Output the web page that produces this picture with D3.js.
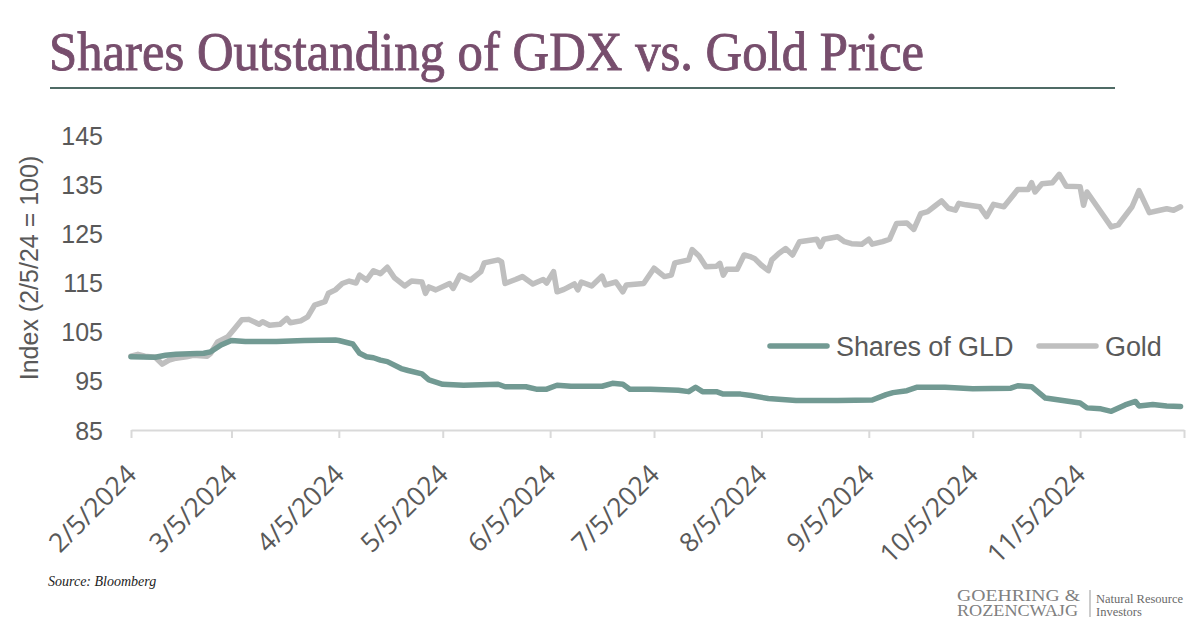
<!DOCTYPE html>
<html>
<head>
<meta charset="utf-8">
<script src="https://cdn.jsdelivr.net/npm/d3@7"></script>
<style>
  html, body { margin: 0; padding: 0; background: #ffffff; }
  svg { display: block; }
</style>
</head>
<body>
<svg id="chart" width="1200" height="628"></svg>
<script>
// ---------- DATA ----------
const titleText = "Shares Outstanding of GDX vs. Gold Price";
const yAxisTitle = "Index (2/5/24 = 100)";
const sourceText = "Source: Bloomberg";
const seriesNames = ["Shares of GLD", "Gold"];
const xTickLabels = ["2/5/2024","3/5/2024","4/5/2024","5/5/2024","6/5/2024","7/5/2024","8/5/2024","9/5/2024","10/5/2024","11/5/2024"];
const xDomain = ["2024-02-05", "2024-12-05"];
const yTicks = [85, 95, 105, 115, 125, 135, 145];

const goldDates = ["2024-02-05","2024-02-07","2024-02-09","2024-02-12","2024-02-14","2024-02-16","2024-02-18","2024-02-21","2024-02-23","2024-02-27","2024-02-28",
"2024-03-01","2024-03-04","2024-03-06","2024-03-08","2024-03-10","2024-03-13","2024-03-14","2024-03-16","2024-03-19","2024-03-21","2024-03-22","2024-03-25","2024-03-27","2024-03-29",
"2024-04-01","2024-04-02","2024-04-04","2024-04-06","2024-04-08","2024-04-10","2024-04-11","2024-04-13","2024-04-15","2024-04-17","2024-04-19","2024-04-21","2024-04-24","2024-04-26","2024-04-29","2024-04-30",
"2024-05-01","2024-05-03","2024-05-07","2024-05-08","2024-05-10","2024-05-13","2024-05-16","2024-05-17","2024-05-21","2024-05-22","2024-05-23","2024-05-26","2024-05-28","2024-05-31",
"2024-06-03","2024-06-04","2024-06-06","2024-06-07","2024-06-09","2024-06-12","2024-06-13","2024-06-14","2024-06-17","2024-06-20","2024-06-21","2024-06-24","2024-06-26","2024-06-27",
"2024-07-02","2024-07-05","2024-07-08","2024-07-10","2024-07-11","2024-07-15","2024-07-16","2024-07-18","2024-07-20","2024-07-23","2024-07-24","2024-07-25","2024-07-26","2024-07-29","2024-07-31",
"2024-08-02","2024-08-03","2024-08-05","2024-08-07","2024-08-08","2024-08-10","2024-08-12","2024-08-14","2024-08-16","2024-08-19","2024-08-21","2024-08-22","2024-08-23","2024-08-27","2024-08-29","2024-08-31",
"2024-09-03","2024-09-05","2024-09-06","2024-09-09","2024-09-11","2024-09-13","2024-09-16","2024-09-18","2024-09-20","2024-09-22","2024-09-24","2024-09-26","2024-09-28","2024-09-30",
"2024-10-01","2024-10-03","2024-10-07","2024-10-09","2024-10-11","2024-10-14","2024-10-18","2024-10-21","2024-10-22","2024-10-23","2024-10-25","2024-10-28","2024-10-30",
"2024-11-01","2024-11-05","2024-11-06","2024-11-07","2024-11-14","2024-11-16","2024-11-20","2024-11-22","2024-11-25","2024-11-28","2024-11-30",
"2024-12-02","2024-12-04"];
const goldValues = [100.0,100.4,100.0,99.8,98.4,99.2,99.6,99.9,100.2,100.0,100.6,
102.9,104.0,105.7,107.4,107.5,106.5,107.0,106.3,106.5,107.7,106.8,107.2,108.0,110.4,
111.1,112.8,113.5,114.8,115.3,114.9,116.5,115.5,117.4,116.8,118.1,116.0,114.3,115.3,115.1,112.8,
114.1,113.5,114.8,113.8,116.5,115.5,117.2,119.0,119.6,119.2,114.8,115.6,116.2,114.7,
115.6,114.9,117.2,113.1,113.6,114.7,113.5,115.1,114.3,116.3,114.5,115.1,113.1,114.5,
114.8,117.9,116.2,116.5,119.0,119.6,121.7,120.4,118.2,118.3,118.9,116.5,117.7,117.7,120.6,
120.2,119.9,118.5,117.4,119.6,120.9,121.9,120.6,123.3,123.6,123.8,122.3,123.8,124.3,123.3,122.9,
122.8,123.8,122.8,123.3,123.8,127.0,127.1,125.8,129.0,129.4,130.5,131.6,130.1,129.7,
131.1,130.8,130.4,128.4,130.9,130.4,133.9,133.9,135.3,133.4,135.1,135.3,137.0,
134.6,134.5,130.7,133.4,126.3,126.7,130.4,133.7,129.2,129.7,130.0,
129.7,130.4];

const sharesDates = ["2024-02-05","2024-02-12","2024-02-15","2024-02-18","2024-02-26","2024-02-28",
"2024-03-02","2024-03-05","2024-03-09","2024-03-18","2024-03-26",
"2024-04-04","2024-04-05","2024-04-09","2024-04-11","2024-04-13","2024-04-15","2024-04-17","2024-04-19","2024-04-23","2024-04-25","2024-04-29",
"2024-05-01","2024-05-05","2024-05-11","2024-05-21","2024-05-23","2024-05-29",
"2024-06-01","2024-06-04","2024-06-07","2024-06-11","2024-06-20","2024-06-23","2024-06-26","2024-06-28",
"2024-07-04","2024-07-12","2024-07-15","2024-07-17","2024-07-19","2024-07-23","2024-07-25","2024-07-30",
"2024-08-02","2024-08-07","2024-08-15","2024-08-27",
"2024-09-06","2024-09-10","2024-09-12","2024-09-16","2024-09-19","2024-09-27",
"2024-10-05","2024-10-16","2024-10-18","2024-10-22","2024-10-26","2024-10-31",
"2024-11-05","2024-11-07","2024-11-11","2024-11-14","2024-11-18","2024-11-21","2024-11-22","2024-11-26","2024-11-30",
"2024-12-04"];
const sharesValues = [99.9,99.8,100.2,100.4,100.6,100.9,
102.3,103.2,103.0,103.0,103.2,
103.3,103.2,102.5,100.6,99.9,99.7,99.2,98.9,97.5,97.1,96.4,
95.2,94.3,94.1,94.3,93.8,93.8,
93.3,93.3,94.1,93.9,93.9,94.5,94.3,93.3,
93.3,93.1,92.8,93.7,92.8,92.8,92.3,92.3,
92.0,91.4,91.0,91.0,
91.1,92.2,92.6,93.0,93.7,93.7,
93.4,93.5,94.0,93.8,91.5,91.0,
90.5,89.5,89.3,88.8,90.1,90.8,89.9,90.2,89.9,
89.8];

// ---------- DRAW ----------
const parse = d3.timeParse("%Y-%m-%d");
const parseTick = d3.timeParse("%m/%d/%Y");
const svg = d3.select("#chart");

const colShares = "#729a93";
const colGold = "#bfbfbf";
const textGrey = "#595959";

const x = d3.scaleTime().domain(xDomain.map(parse)).range([131, 1184]);
const y = d3.scaleLinear().domain([85, 145]).range([430, 135]);

// Title
svg.append("text")
  .attr("x", 49).attr("y", 70)
  .attr("font-family", "'Liberation Serif', 'DejaVu Serif', serif")
  .attr("font-size", 55)
  .attr("fill", "#774e6d")
  .attr("stroke", "#774e6d").attr("stroke-width", 0.9)
  .attr("textLength", 875)
  .attr("lengthAdjust", "spacingAndGlyphs")
  .text(titleText);

svg.append("line")
  .attr("x1", 50).attr("x2", 1115).attr("y1", 88).attr("y2", 88)
  .attr("stroke", "#4f6b65").attr("stroke-width", 2);

// X axis
const tickDates = xTickLabels.map(parseTick).concat([parse(xDomain[1])]);
const xAxis = d3.axisBottom(x)
  .tickValues(tickDates)
  .tickSize(8)
  .tickSizeOuter(0)
  .tickFormat(() => "");
const gx = svg.append("g").attr("transform", "translate(0,430)").call(xAxis);
gx.select(".domain").attr("stroke", "#d9d9d9").attr("stroke-width", 2);
gx.selectAll(".tick line").attr("stroke", "#d9d9d9").attr("stroke-width", 2);

svg.append("g").selectAll("text")
  .data(xTickLabels)
  .join("text")
  .attr("transform", d => `translate(${x(parseTick(d)) + 7},476) rotate(-45)`)
  .attr("text-anchor", "end")
  .attr("font-family", "'Open Sans', 'Liberation Sans', sans-serif")
  .attr("font-size", 26.5)
  .attr("fill", textGrey)
  .text(d => d);

// Y axis (labels only)
const yAxis = d3.axisLeft(y).tickValues(yTicks).tickSize(0).tickPadding(0).tickFormat(d3.format("d"));
const gy = svg.append("g").attr("transform", "translate(103,0)").call(yAxis);
gy.select(".domain").remove();
gy.selectAll(".tick text")
  .attr("font-family", "'Liberation Sans', Arial, sans-serif")
  .attr("font-size", 25)
  .attr("fill", textGrey)
  .attr("dy", "0.36em");

svg.append("text")
  .attr("transform", "translate(38,268) rotate(-90)")
  .attr("text-anchor", "middle")
  .attr("font-family", "'Liberation Sans', Arial, sans-serif")
  .attr("font-size", 25)
  .attr("fill", textGrey)
  .text(yAxisTitle);

// Lines
const line = d3.line().x(d => x(d.date)).y(d => y(d.value)).curve(d3.curveLinear);
const goldData = goldDates.map((d, i) => ({date: parse(d), value: goldValues[i]}));
const sharesData = sharesDates.map((d, i) => ({date: parse(d), value: sharesValues[i]}));

svg.append("path").datum(goldData)
  .attr("d", line).attr("fill", "none")
  .attr("stroke", colGold).attr("stroke-width", 5.5)
  .attr("stroke-linejoin", "round").attr("stroke-linecap", "round");
svg.append("path").datum(sharesData)
  .attr("d", line).attr("fill", "none")
  .attr("stroke", colShares).attr("stroke-width", 5.5)
  .attr("stroke-linejoin", "round").attr("stroke-linecap", "round");

// Legend
const legend = [
  {name: seriesNames[0], color: colShares, x: 770},
  {name: seriesNames[1], color: colGold, x: 1039}
];
const lg = svg.append("g");
legend.forEach(l => {
  lg.append("line").attr("x1", l.x).attr("x2", l.x + 57).attr("y1", 346).attr("y2", 346)
    .attr("stroke", l.color).attr("stroke-width", 5.5).attr("stroke-linecap", "round");
  lg.append("text").attr("x", l.x + 66).attr("y", 356)
    .attr("font-family", "'Liberation Sans', Arial, sans-serif")
    .attr("font-size", 27).attr("letter-spacing", -0.1)
    .attr("fill", textGrey).text(l.name);
});

// Source
svg.append("text")
  .attr("x", 48).attr("y", 586)
  .attr("font-family", "'Liberation Serif', serif")
  .attr("font-style", "italic")
  .attr("font-size", 14)
  .attr("fill", "#222")
  .text(sourceText);

// Logo
const logo = svg.append("g").attr("fill", "#808080").attr("font-family", "'Liberation Serif', serif");
logo.append("text").attr("x", 957).attr("y", 601).attr("font-size", 16).attr("textLength", 123).attr("lengthAdjust", "spacingAndGlyphs").text("GOEHRING \u0026");
logo.append("text").attr("x", 957).attr("y", 616).attr("font-size", 16).attr("textLength", 121).attr("lengthAdjust", "spacingAndGlyphs").text("ROZENCWAJG");
svg.append("line").attr("x1", 1090).attr("x2", 1090).attr("y1", 590).attr("y2", 617).attr("stroke", "#999").attr("stroke-width", 1);
logo.append("text").attr("x", 1096).attr("y", 603).attr("font-size", 12.5).attr("fill", "#6a6a6a").text("Natural Resource");
logo.append("text").attr("x", 1096).attr("y", 616).attr("font-size", 12.5).attr("fill", "#6a6a6a").text("Investors");
</script>
</body>
</html>
